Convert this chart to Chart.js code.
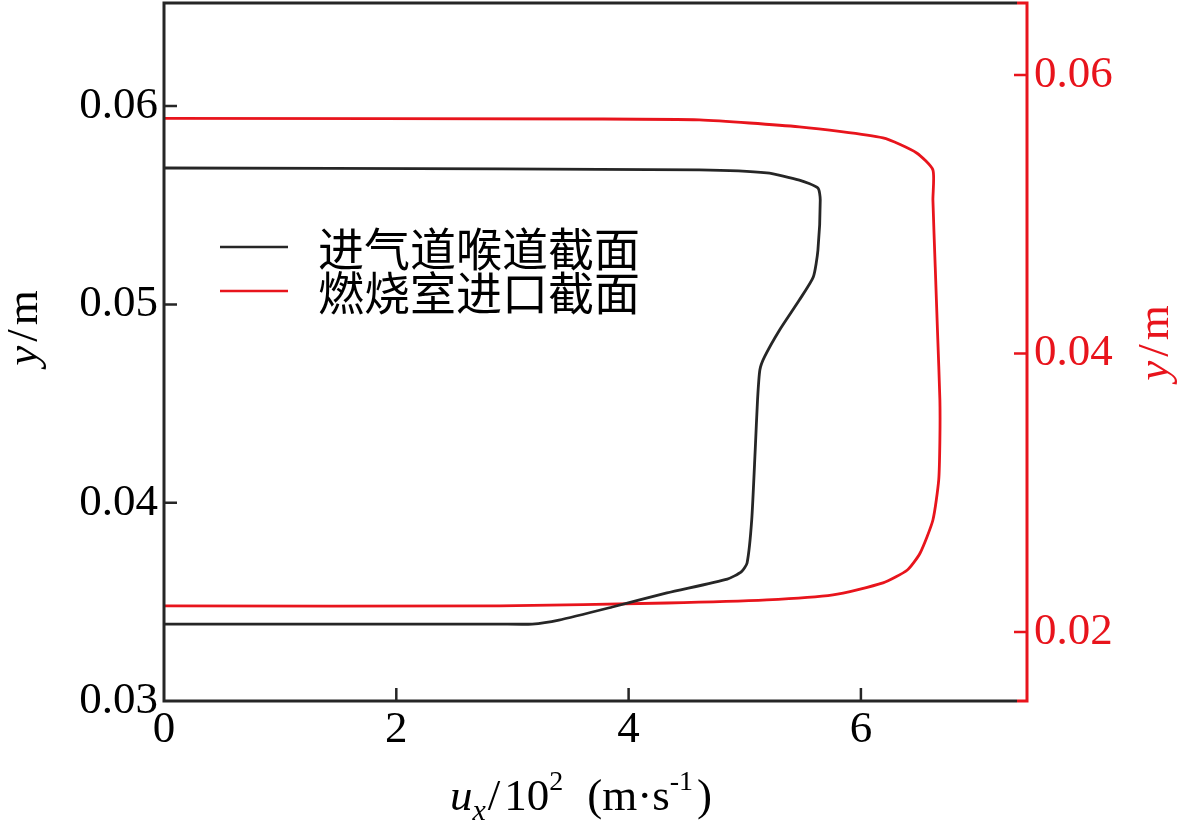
<!DOCTYPE html>
<html>
<head>
<meta charset="utf-8">
<script src="https://cdn.jsdelivr.net/npm/chart.js@4.4.1/dist/chart.umd.min.js"></script>
<style>
  html, body { margin: 0; padding: 0; background: #fff; }
  #wrap { width: 1200px; height: 839px; }
</style>
</head>
<body>
<div id="wrap"><canvas id="profile" width="1200" height="839"></canvas></div>
<script>
// values (u_x in 10^2 m/s, y in m)
const throatUx = [0, 2.89, 3.17, 3.40, 3.86, 4.33, 4.85, 4.97, 5.02, 5.06, 5.09, 5.11, 5.13, 5.17, 5.30, 5.47, 5.59, 5.63, 5.65, 5.63, 5.47, 5.19, 4.61, 2.89, 0];
const throatY = [0.03388, 0.03388, 0.03388, 0.03408, 0.03474, 0.03545, 0.03615, 0.03651, 0.03696, 0.03913, 0.04266, 0.04518, 0.04669, 0.04735, 0.04871, 0.05022, 0.05138, 0.05274, 0.05527, 0.05587, 0.05627, 0.05663, 0.05678, 0.05683, 0.05688];
const combUx = [0, 2.89, 4.33, 5.19, 5.76, 6.19, 6.40, 6.51, 6.62, 6.67, 6.68, 6.68, 6.66, 6.64, 6.62, 6.62, 6.48, 6.19, 5.47, 4.61, 3.75, 0];
const combY = [0.02187, 0.02187, 0.02208, 0.02230, 0.02266, 0.02352, 0.02445, 0.02567, 0.02804, 0.03092, 0.03379, 0.03666, 0.04147, 0.04621, 0.05102, 0.05318, 0.05440, 0.05548, 0.05627, 0.05677, 0.05684, 0.05688];
const seriesNames = ['进气道喉道截面', '燃烧室进口截面'];
const xTicks = [0, 2, 4, 6];
const leftTicks = [0.03, 0.04, 0.05, 0.06];
const rightTicks = [0.02, 0.04, 0.06];

const BLACK = '#262626';
const RED = '#e8141c';
const SERIF = '"Liberation Serif", "Times New Roman", serif';
const CJK = '"Noto Sans CJK SC", sans-serif';

const toPoints = (xs, ys) => xs.map((x, i) => ({ x: x, y: ys[i] }));
const fixTicks = list => scale => { scale.ticks = list.map(v => ({ value: v })); };
// no extra room for overhanging labels, the frame is placed by hand
const noPad = (w, h) => s => {
  if (w) s.width = w;
  if (h) s.height = h;
  s.paddingTop = 0; s.paddingBottom = 0; s.paddingLeft = 0; s.paddingRight = 0;
};

// draw a row of text runs (for italics / sub / superscripts)
function drawRuns(ctx, runs, cx, baseY) {
  let total = 0;
  runs.forEach(r => { ctx.font = r.font; total += ctx.measureText(r.t).width + (r.gap || 0); });
  let x = cx - total / 2;
  ctx.textAlign = 'left';
  ctx.textBaseline = 'alphabetic';
  runs.forEach(r => {
    ctx.font = r.font;
    ctx.fillText(r.t, x, baseY + (r.dy || 0));
    x += ctx.measureText(r.t).width + (r.gap || 0);
  });
}

// frame, inward ticks, axis titles and the legend
const decorations = {
  id: 'decorations',
  afterDatasetsDraw(chart) {
    const { ctx, chartArea: a, scales } = chart;
    const inner = a.right - 10;
    ctx.save();
    ctx.lineCap = 'butt';
    ctx.lineWidth = 3;

    // frame
    ctx.strokeStyle = BLACK;
    ctx.beginPath();
    ctx.moveTo(a.left, a.top); ctx.lineTo(inner, a.top);
    ctx.moveTo(a.left, a.top - 1.5); ctx.lineTo(a.left, a.bottom + 1.5);
    ctx.moveTo(a.left, a.bottom); ctx.lineTo(inner, a.bottom);
    ctx.stroke();
    ctx.strokeStyle = RED;
    ctx.beginPath();
    ctx.moveTo(inner, a.top); ctx.lineTo(a.right, a.top);
    ctx.moveTo(inner, a.bottom); ctx.lineTo(a.right, a.bottom);
    ctx.moveTo(a.right, a.top - 1.5); ctx.lineTo(a.right, a.bottom + 1.5);
    ctx.stroke();

    // inward ticks
    ctx.lineWidth = 2.5;
    ctx.strokeStyle = BLACK;
    ctx.beginPath();
    scales.x.ticks.forEach(t => {
      const px = scales.x.getPixelForValue(t.value);
      if (px - a.left < 3) return;
      ctx.moveTo(px, a.bottom); ctx.lineTo(px, a.bottom - 13);
    });
    scales.y.ticks.forEach(t => {
      const py = scales.y.getPixelForValue(t.value);
      if (a.bottom - py < 3) return;
      ctx.moveTo(a.left, py); ctx.lineTo(a.left + 13, py);
    });
    ctx.stroke();
    ctx.strokeStyle = RED;
    ctx.beginPath();
    scales.y2.ticks.forEach(t => {
      const py = scales.y2.getPixelForValue(t.value);
      ctx.moveTo(a.right, py); ctx.lineTo(a.right - 13, py);
    });
    ctx.stroke();

    // axis titles
    const it = 'italic 45px ' + SERIF;
    const up = '45px ' + SERIF;
    const small = '28px ' + SERIF;
    ctx.fillStyle = '#000';
    drawRuns(ctx, [
      { t: 'u', font: it },
      { t: 'x', font: 'italic 30px ' + SERIF, dy: 10, gap: 2 },
      { t: '/', font: up, gap: 4 },
      { t: '10', font: up },
      { t: '2', font: small, dy: -20, gap: 24 },
      { t: '(m·s', font: up },
      { t: '-1', font: small, dy: -20, gap: 4 },
      { t: ')', font: up }
    ], 581, 810);

    const yTitle = [{ t: 'y', font: it, gap: 4 }, { t: '/', font: up, gap: 4 }, { t: 'm', font: up }];
    ctx.save();
    ctx.translate(37, 328);
    ctx.rotate(-Math.PI / 2);
    drawRuns(ctx, yTitle, 0, 0);
    ctx.restore();

    ctx.save();
    ctx.fillStyle = RED;
    ctx.translate(1168, 343);
    ctx.rotate(-Math.PI / 2);
    drawRuns(ctx, yTitle, 0, 0);
    ctx.restore();

    // legend
    const rows = [247, 291];
    chart.data.datasets.forEach((ds, i) => {
      ctx.strokeStyle = ds.borderColor;
      ctx.lineWidth = 2.5;
      ctx.beginPath();
      ctx.moveTo(220, rows[i]); ctx.lineTo(288, rows[i]);
      ctx.stroke();
      ctx.fillStyle = '#000';
      ctx.font = '46px ' + CJK;
      ctx.textAlign = 'left';
      ctx.textBaseline = 'middle';
      ctx.fillText(ds.label, 318, rows[i] + 2);
    });
    ctx.restore();
  }
};

new Chart(document.getElementById('profile').getContext('2d'), {
  type: 'scatter',
  data: {
    datasets: [
      {
        label: seriesNames[0],
        data: toPoints(throatUx, throatY),
        yAxisID: 'y',
        showLine: true,
        borderColor: BLACK,
        borderWidth: 2.8,
        pointRadius: 0,
        tension: 0.2
      },
      {
        label: seriesNames[1],
        data: toPoints(combUx, combY),
        yAxisID: 'y2',
        showLine: true,
        borderColor: RED,
        borderWidth: 2.8,
        pointRadius: 0,
        tension: 0.2
      }
    ]
  },
  options: {
    responsive: false,
    animation: false,
    layout: { padding: { top: 3, left: 0, right: 0, bottom: 0 } },
    plugins: {
      legend: { display: false },
      tooltip: { enabled: false }
    },
    scales: {
      x: {
        type: 'linear',
        min: 0,
        max: 7.43,
        grid: { display: false, drawTicks: false },
        border: { display: false },
        afterBuildTicks: fixTicks(xTicks),
        afterFit: noPad(0, 138),
        ticks: {
          padding: 2,
          color: '#000',
          font: { family: SERIF, size: 45 },
          callback: v => String(v)
        }
      },
      y: {
        type: 'linear',
        position: 'left',
        min: 0.03,
        max: 0.0652,
        grid: { display: false, drawTicks: false },
        border: { display: false },
        afterBuildTicks: fixTicks(leftTicks),
        afterFit: noPad(164, 0),
        ticks: {
          padding: 6,
          color: '#000',
          font: { family: SERIF, size: 45 },
          callback: v => v.toFixed(2)
        }
      },
      y2: {
        type: 'linear',
        position: 'right',
        min: 0.01504,
        max: 0.06517,
        grid: { display: false, drawTicks: false },
        border: { display: false },
        afterBuildTicks: fixTicks(rightTicks),
        afterFit: noPad(173, 0),
        ticks: {
          padding: 7,
          color: RED,
          font: { family: SERIF, size: 45 },
          callback: v => v.toFixed(2)
        }
      }
    }
  },
  plugins: [decorations]
});
</script>
</body>
</html>
